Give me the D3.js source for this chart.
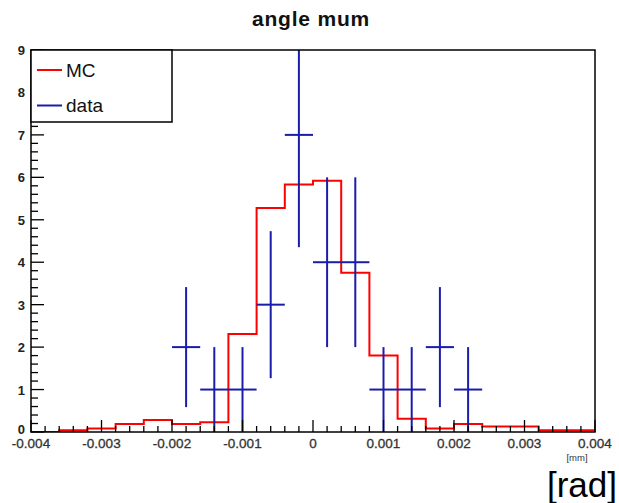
<!DOCTYPE html>
<html>
<head>
<meta charset="utf-8">
<script src="https://cdn.jsdelivr.net/npm/d3@7"></script>
<style>
  body { margin: 0; background: #fff; }
  svg { display: block; }
  text { font-family: "Liberation Sans", Arial, Helvetica, sans-serif; }
</style>
</head>
<body>
<div id="chart"></div>
<script>
// histogram binning: 20 bins from -0.004 to 0.004
const binEdges = [-0.004, -0.0036, -0.0032, -0.0028, -0.0024, -0.002, -0.0016, -0.0012, -0.0008, -0.0004,
                  0, 0.0004, 0.0008, 0.0012, 0.0016, 0.002, 0.0024, 0.0028, 0.0032, 0.0036, 0.004];
// MC histogram contents per bin
const mcValues = [0, 0.04, 0.08, 0.19, 0.28, 0.19, 0.23, 2.31, 5.28, 5.83,
                  5.92, 3.75, 1.80, 0.31, 0.08, 0.19, 0.13, 0.13, 0.04, 0.04];
// data counts per bin (errors are sqrt(N))
const dataValues = [0, 0, 0, 0, 0, 2, 1, 1, 3, 7,
                    4, 4, 1, 1, 2, 1, 0, 0, 0, 0];
const xTicks = [-0.004, -0.003, -0.002, -0.001, 0, 0.001, 0.002, 0.003, 0.004];
const xTickLabels = ["-0.004", "-0.003", "-0.002", "-0.001", "0", "0.001", "0.002", "0.003", "0.004"];
const yTicks = [0, 1, 2, 3, 4, 5, 6, 7, 8, 9];

const W = 619, H = 503;
const margin = {top: 50, right: 24, bottom: 71, left: 31};
const width = W - margin.left - margin.right;
const height = H - margin.top - margin.bottom;

const svg = d3.select("#chart").append("svg")
    .attr("width", W)
    .attr("height", H);

const x = d3.scaleLinear().domain([-0.004, 0.004]).range([0, width]);
const y = d3.scaleLinear().domain([0, 9]).range([height, 0]);

const g = svg.append("g").attr("transform", `translate(${margin.left},${margin.top})`);

// clip so error bars don't go past the frame
svg.append("defs").append("clipPath").attr("id", "plotclip")
  .append("rect").attr("width", width).attr("height", height);

const plot = g.append("g").attr("clip-path", "url(#plotclip)");

// MC step histogram
const steps = [];
mcValues.forEach((v, i) => {
    steps.push([binEdges[i], v]);
    steps.push([binEdges[i + 1], v]);
});
const line = d3.line().x(d => x(d[0])).y(d => y(d[1]));
plot.append("path")
    .attr("d", line(steps))
    .attr("fill", "none")
    .attr("stroke", "#ff0000")
    .attr("stroke-width", 2);

// data points with error bars
const blue = "#1c1cab";
const pts = dataValues.map((v, i) => ({
    lo: binEdges[i], hi: binEdges[i + 1], c: (binEdges[i] + binEdges[i + 1]) / 2, v: v, e: Math.sqrt(v)
})).filter(d => d.v > 0);

const pg = plot.append("g").attr("stroke", blue).attr("stroke-width", 2);
pg.selectAll("line.h").data(pts).enter().append("line")
    .attr("x1", d => x(d.lo)).attr("x2", d => x(d.hi))
    .attr("y1", d => y(d.v)).attr("y2", d => y(d.v));
pg.selectAll("line.v").data(pts).enter().append("line")
    .attr("x1", d => x(d.c)).attr("x2", d => x(d.c))
    .attr("y1", d => y(d.v - d.e)).attr("y2", d => y(d.v + d.e));

// axes: ticks drawn inside the frame like ROOT
const xMinor = d3.range(0, 41).map(i => -0.004 + i * 0.0002);
g.append("g").selectAll("line").data(xMinor).enter().append("line")
    .attr("x1", d => x(d)).attr("x2", d => x(d))
    .attr("y1", height)
    .attr("y2", (d, i) => height - (i % 5 === 0 ? 12 : 6))
    .attr("stroke", "#000").attr("stroke-width", 1.3);

const yMinor = d3.range(0, 46).map(i => i * 0.2);
g.append("g").selectAll("line").data(yMinor).enter().append("line")
    .attr("x1", 0)
    .attr("x2", (d, i) => (i % 5 === 0 ? 13 : 7))
    .attr("y1", d => y(d)).attr("y2", d => y(d))
    .attr("stroke", "#000").attr("stroke-width", 1.3);

g.append("g").selectAll("text").data(xTicks).enter().append("text")
    .attr("x", d => x(d))
    .attr("y", height + 16)
    .attr("text-anchor", "middle")
    .attr("font-size", 13.5)
    .attr("fill", "#333")
    .attr("stroke", "#333").attr("stroke-width", 0.3)
    .text((d, i) => xTickLabels[i]);

g.append("g").selectAll("text").data(yTicks).enter().append("text")
    .attr("x", -6)
    .attr("y", d => y(d) + (d === 0 ? 2 : 5))
    .attr("text-anchor", "end")
    .attr("font-size", 13)
    .attr("font-weight", "bold")
    .attr("fill", "#222")
    .text(d => d);

// frame
g.append("rect")
    .attr("width", width).attr("height", height)
    .attr("fill", "none").attr("stroke", "#000").attr("stroke-width", 1.5);

// legend
const leg = g.append("g");
leg.append("rect")
    .attr("x", 0).attr("y", 0).attr("width", 141).attr("height", 72)
    .attr("fill", "#fff").attr("stroke", "#000").attr("stroke-width", 1.5);
const legItems = [{name: "MC", color: "#ff0000"}, {name: "data", color: blue}];
legItems.forEach((d, i) => {
    const ly = 20 + i * 35.5;
    leg.append("line").attr("x1", 6).attr("x2", 31).attr("y1", ly).attr("y2", ly)
        .attr("stroke", d.color).attr("stroke-width", 2);
    leg.append("text").attr("x", 35).attr("y", ly + 6.5)
        .attr("font-size", 19).attr("fill", "#111").text(d.name);
});

// title and axis titles
svg.append("text")
    .attr("x", 311).attr("y", 26)
    .attr("text-anchor", "middle")
    .attr("font-size", 21).attr("font-weight", "bold")
    .attr("letter-spacing", 0.8)
    .attr("fill", "#111")
    .text("angle mum");

svg.append("text")
    .attr("x", 577).attr("y", 461)
    .attr("text-anchor", "middle")
    .attr("font-size", 9.5).attr("fill", "#333")
    .text("[mm]");

svg.append("text")
    .attr("x", 617).attr("y", 497)
    .attr("text-anchor", "end")
    .attr("font-size", 35).attr("fill", "#000")
    .text("[rad]");
</script>
</body>
</html>
